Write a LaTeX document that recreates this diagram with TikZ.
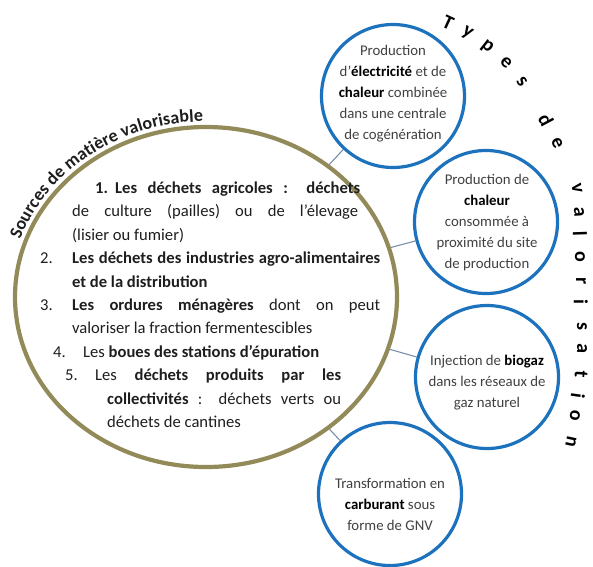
\documentclass[tikz,border=0pt]{standalone}
\usepackage{fontspec}
\setmainfont{Carlito}
\usetikzlibrary{shapes.geometric,decorations.text}
\definecolor{cblue}{RGB}{28,114,188}
\definecolor{olivec}{RGB}{146,138,88}
\definecolor{connc}{RGB}{122,142,170}
\definecolor{txt}{RGB}{30,30,30}
\definecolor{ctxt}{RGB}{64,64,64}
\begin{document}
\begin{tikzpicture}[x=1pt,y=1pt,
  bluecirc/.style={circle, draw=cblue, line width=3.2pt, minimum size=143pt, inner sep=0pt},
  bigell/.style={ellipse, draw=olivec, line width=4.2pt, minimum width=382pt, minimum height=340pt, inner sep=0pt},
  link/.style={draw=connc, line width=1.1pt},
  ctext/.style={align=center, text=ctxt, inner sep=0pt, font=\fontsize{14.8}{21}\selectfont},
  mtext/.style={anchor=base west, inner sep=0pt, text=txt, font=\fontsize{16.6}{23}\selectfont},
  tyletter/.style={font=\fontsize{20}{20}\selectfont\bfseries, inner sep=0pt, text=black}]
\useasboundingbox (0,0) rectangle (593,-566);

% main ellipse and the four circles
\node[bigell] (big) at (206,-297) {};
\node[bluecirc] (c1) at (393,-96) {};
\node[bluecirc] (c2) at (486,-222) {};
\node[bluecirc] (c3) at (487,-377) {};
\node[bluecirc] (c4) at (390,-494) {};

% connectors
\draw[link] (big) -- (c1);
\draw[link] (big) -- (c2);
\draw[link] (big) -- (c3);
\draw[link] (big) -- (c4);

% circle texts
\node[ctext] (t1) at (393,-94) {Production\\d’\textbf{\color{black}électricité} et de\\\textbf{\color{black}chaleur} combinée\\dans une centrale\\de cogénération};
\node[ctext] (t2) at (487,-223) {Production de\\\textbf{\color{black}chaleur}\\consommée à\\proximité du site\\de production};
\node[ctext] (t3) at (487,-383) {Injection de \textbf{\color{black}biogaz}\\dans les réseaux de\\gaz naturel};
\node[ctext] (t4) at (390,-504) {Transformation en\\\textbf{\color{black}carburant} sous\\forme de GNV};

% list inside the ellipse
\node[mtext] (n1) at (95,-193) {\textbf{1.}};
\node[mtext] (l1) at (115,-193) {\makebox[245pt][s]{\bfseries Les déchets agricoles : déchets}};
\node[mtext] (l2) at (72,-216) {\makebox[286pt][s]{de culture (pailles) ou de l’élevage}};
\node[mtext] (l3) at (72,-240) {(lisier ou fumier)};
\node[mtext] (n2) at (40,-263) {2.};
\node[mtext] (l4) at (72,-263) {\makebox[308pt][s]{\bfseries Les déchets des industries agro-alimentaires}};
\node[mtext] (l5) at (72,-287) {\textbf{et de la distribution}};
\node[mtext] (n3) at (40,-310) {3.};
\node[mtext] (l6) at (72,-310) {\makebox[308pt][s]{\textbf{Les ordures ménagères} dont on peut}};
\node[mtext] (l7) at (72,-333) {valoriser la fraction fermentescibles};
\node[mtext] (n4) at (53,-357) {4.};
\node[mtext] (l8) at (83,-357) {Les \textbf{boues des stations d’épuration}};
\node[mtext] (n5) at (65,-380) {5.};
\node[mtext] (l9) at (95,-380) {\makebox[246pt][s]{Les \textbf{déchets produits par les}}};
\node[mtext] (l10) at (107,-404) {\makebox[234pt][s]{\textbf{collectivités} : déchets verts ou}};
\node[mtext] (l11) at (107,-427) {déchets de cantines};

% curved title on the ellipse
\path[decorate, decoration={text along path, text color=txt, raise=1.5pt, text align=left,
  text={|\fontsize{18}{20}\selectfont\bfseries|Sources de matière valorisable}}]
  (206,-297) ++(161:195 and 174) arc[start angle=161, end angle=78, x radius=195, y radius=174];

% "Types de valorisation" letters
\node[tyletter, rotate=-25] (a1) at (448,-23) {T};
\node[tyletter, rotate=-32] (a2) at (467,-33) {y};
\node[tyletter, rotate=-38] (a3) at (487,-47) {p};
\node[tyletter, rotate=-45] (a4) at (506,-63) {e};
\node[tyletter, rotate=-52] (a5) at (522,-82) {s};
\node[tyletter, rotate=-62] (a6) at (546,-120) {d};
\node[tyletter, rotate=-66] (a7) at (557,-143) {e};
\node[tyletter, rotate=-80] (a8) at (577,-188) {v};
\node[tyletter, rotate=-86] (a9) at (579,-212) {a};
\node[tyletter, rotate=-88] (a10) at (580,-234) {l};
\node[tyletter, rotate=-90] (a11) at (580,-257) {o};
\node[tyletter, rotate=-90] (a12) at (581,-281) {r};
\node[tyletter, rotate=-90] (a13) at (581,-302) {i};
\node[tyletter, rotate=-90] (a14) at (582,-326) {s};
\node[tyletter, rotate=-92] (a15) at (582,-349) {a};
\node[tyletter, rotate=-94] (a16) at (581,-374) {t};
\node[tyletter, rotate=-98] (a17) at (578,-396) {i};
\node[tyletter, rotate=-100] (a18) at (575,-416) {o};
\node[tyletter, rotate=-102] (a19) at (571,-442) {n};
\end{tikzpicture}
\end{document}
